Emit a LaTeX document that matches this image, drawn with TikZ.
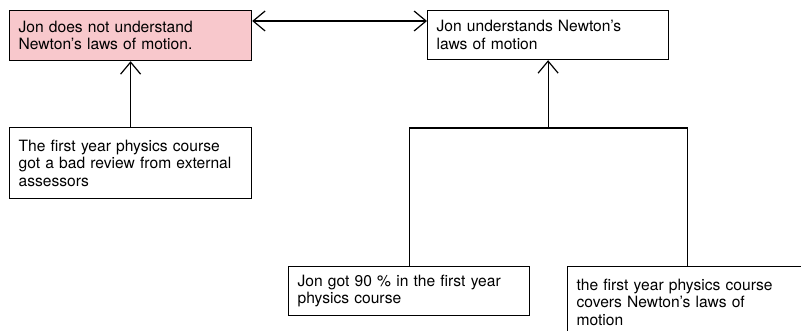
\documentclass[tikz,border=0pt]{standalone}
\usepackage{fontspec}
\setmainfont{TeX Gyre Heros}
\usepackage{xcolor}
\usetikzlibrary{arrows.meta}
\definecolor{claimpink}{RGB}{248,200,204}

\begin{document}
\begin{tikzpicture}[x=1pt, y=-1pt,
  claim/.style={draw, line width=1.2pt, anchor=north west, align=left,
    inner xsep=9pt, inner ysep=4pt, font=\fontsize{15.6}{17.5}\selectfont},
  link/.style={line width=1.2pt},
  arr/.style={line width=1.2pt, -{Straight Barb[length=12pt, width=20pt, line width=1.2pt]}}]
  \useasboundingbox (0,0) rectangle (801,331);
  \node[claim, fill=claimpink, text width=224pt, minimum height=50pt] (notund) at (9,10)
    {Jon does not understand\\Newton’s laws of motion.};
  \node[claim, text width=223pt, minimum height=49pt] (und) at (427,10)
    {Jon understands Newton’s\\laws of motion};
  \node[claim, text width=224pt, minimum height=71pt] (review) at (9,127)
    {The first year physics course\\got a bad review from external\\assessors};
  \node[claim, text width=223pt, minimum height=49pt] (grade) at (288,266)
    {Jon got 90 \% in the first year\\physics course};
  \node[claim, text width=222pt, minimum height=71pt] (covers) at (567,266)
    {the first year physics course\\covers Newton’s laws of\\motion};
  \coordinate (split) at (und.south |- 0,128);
  \draw[arr, {Straight Barb[length=12pt, width=20pt, line width=1.2pt]}-{Straight Barb[length=12pt, width=20pt, line width=1.2pt]}]
    ([yshift=-11pt]notund.north east) -- ([yshift=-11pt]und.north west);
  \draw[arr] (review.north) -- (notund.south);
  \draw[link] (grade.north) |- (split) -| (covers.north);
  \draw[arr] (split) -- (und.south);
\end{tikzpicture}
\end{document}
